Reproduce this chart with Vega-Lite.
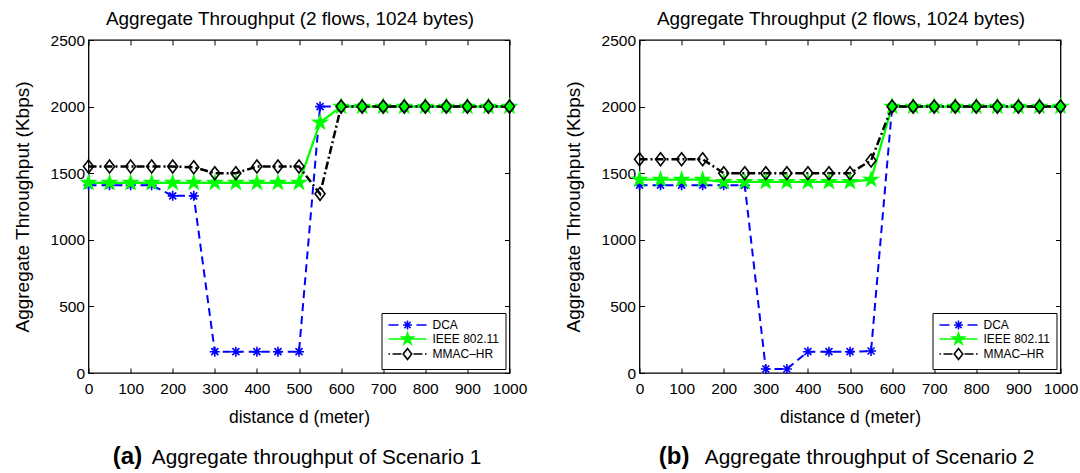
{
  "$schema": "https://vega.github.io/schema/vega-lite/v6.json",
  "padding": {"left": 11.5, "top": 9, "right": 5, "bottom": 0},
  "config": {
    "font": "Liberation Sans",
    "view": {"stroke": "black", "strokeWidth": 1.3},
    "axis": {"domain": false, "grid": false, "tickColor": "black", "tickSize": -5, "tickWidth": 1, "labelColor": "black", "labelFontSize": 15.5, "labelPadding": 9, "titleColor": "black", "titleFontSize": 17.5, "titleFontWeight": "normal", "labelFlush": false, "labelOverlap": false, "format": "d"},
    "title": {"fontSize": 18.9, "fontWeight": "normal", "color": "black", "offset": 4},
    "legend": {"orient": "bottom-right", "offset": 4, "strokeColor": "black", "fillColor": "white", "padding": 6, "cornerRadius": 0, "rowPadding": -4, "labelFontSize": 12, "labelColor": "black", "labelOffset": 33, "symbolSize": 100}
  },
  "data": {"values": [
    {"panel":"a","series":"DCA","d":0,"kbps":1410},{"panel":"a","series":"DCA","d":50,"kbps":1410},{"panel":"a","series":"DCA","d":100,"kbps":1410},{"panel":"a","series":"DCA","d":150,"kbps":1410},{"panel":"a","series":"DCA","d":200,"kbps":1330},{"panel":"a","series":"DCA","d":250,"kbps":1330},{"panel":"a","series":"DCA","d":300,"kbps":160},{"panel":"a","series":"DCA","d":350,"kbps":160},{"panel":"a","series":"DCA","d":400,"kbps":160},{"panel":"a","series":"DCA","d":450,"kbps":160},{"panel":"a","series":"DCA","d":500,"kbps":160},{"panel":"a","series":"DCA","d":550,"kbps":2000},{"panel":"a","series":"DCA","d":600,"kbps":2000},{"panel":"a","series":"DCA","d":650,"kbps":2000},{"panel":"a","series":"DCA","d":700,"kbps":2000},{"panel":"a","series":"DCA","d":750,"kbps":2000},{"panel":"a","series":"DCA","d":800,"kbps":2000},{"panel":"a","series":"DCA","d":850,"kbps":2000},{"panel":"a","series":"DCA","d":900,"kbps":2000},{"panel":"a","series":"DCA","d":950,"kbps":2000},{"panel":"a","series":"DCA","d":1000,"kbps":2000},
    {"panel":"a","series":"IEEE 802.11","d":0,"kbps":1428},{"panel":"a","series":"IEEE 802.11","d":50,"kbps":1428},{"panel":"a","series":"IEEE 802.11","d":100,"kbps":1428},{"panel":"a","series":"IEEE 802.11","d":150,"kbps":1428},{"panel":"a","series":"IEEE 802.11","d":200,"kbps":1428},{"panel":"a","series":"IEEE 802.11","d":250,"kbps":1428},{"panel":"a","series":"IEEE 802.11","d":300,"kbps":1428},{"panel":"a","series":"IEEE 802.11","d":350,"kbps":1428},{"panel":"a","series":"IEEE 802.11","d":400,"kbps":1428},{"panel":"a","series":"IEEE 802.11","d":450,"kbps":1428},{"panel":"a","series":"IEEE 802.11","d":500,"kbps":1428},{"panel":"a","series":"IEEE 802.11","d":550,"kbps":1880},{"panel":"a","series":"IEEE 802.11","d":600,"kbps":2000},{"panel":"a","series":"IEEE 802.11","d":650,"kbps":2000},{"panel":"a","series":"IEEE 802.11","d":700,"kbps":2000},{"panel":"a","series":"IEEE 802.11","d":750,"kbps":2000},{"panel":"a","series":"IEEE 802.11","d":800,"kbps":2000},{"panel":"a","series":"IEEE 802.11","d":850,"kbps":2000},{"panel":"a","series":"IEEE 802.11","d":900,"kbps":2000},{"panel":"a","series":"IEEE 802.11","d":950,"kbps":2000},{"panel":"a","series":"IEEE 802.11","d":1000,"kbps":2000},
    {"panel":"a","series":"MMAC–HR","d":0,"kbps":1550},{"panel":"a","series":"MMAC–HR","d":50,"kbps":1550},{"panel":"a","series":"MMAC–HR","d":100,"kbps":1550},{"panel":"a","series":"MMAC–HR","d":150,"kbps":1550},{"panel":"a","series":"MMAC–HR","d":200,"kbps":1550},{"panel":"a","series":"MMAC–HR","d":250,"kbps":1545},{"panel":"a","series":"MMAC–HR","d":300,"kbps":1500},{"panel":"a","series":"MMAC–HR","d":350,"kbps":1500},{"panel":"a","series":"MMAC–HR","d":400,"kbps":1550},{"panel":"a","series":"MMAC–HR","d":450,"kbps":1550},{"panel":"a","series":"MMAC–HR","d":500,"kbps":1550},{"panel":"a","series":"MMAC–HR","d":550,"kbps":1345},{"panel":"a","series":"MMAC–HR","d":600,"kbps":2000},{"panel":"a","series":"MMAC–HR","d":650,"kbps":2000},{"panel":"a","series":"MMAC–HR","d":700,"kbps":2000},{"panel":"a","series":"MMAC–HR","d":750,"kbps":2000},{"panel":"a","series":"MMAC–HR","d":800,"kbps":2000},{"panel":"a","series":"MMAC–HR","d":850,"kbps":2000},{"panel":"a","series":"MMAC–HR","d":900,"kbps":2000},{"panel":"a","series":"MMAC–HR","d":950,"kbps":2000},{"panel":"a","series":"MMAC–HR","d":1000,"kbps":2000},
    {"panel":"b","series":"DCA","d":0,"kbps":1410},{"panel":"b","series":"DCA","d":50,"kbps":1410},{"panel":"b","series":"DCA","d":100,"kbps":1410},{"panel":"b","series":"DCA","d":150,"kbps":1410},{"panel":"b","series":"DCA","d":200,"kbps":1410},{"panel":"b","series":"DCA","d":250,"kbps":1410},{"panel":"b","series":"DCA","d":300,"kbps":30},{"panel":"b","series":"DCA","d":350,"kbps":30},{"panel":"b","series":"DCA","d":400,"kbps":160},{"panel":"b","series":"DCA","d":450,"kbps":160},{"panel":"b","series":"DCA","d":500,"kbps":160},{"panel":"b","series":"DCA","d":550,"kbps":165},{"panel":"b","series":"DCA","d":600,"kbps":2000},{"panel":"b","series":"DCA","d":650,"kbps":2000},{"panel":"b","series":"DCA","d":700,"kbps":2000},{"panel":"b","series":"DCA","d":750,"kbps":2000},{"panel":"b","series":"DCA","d":800,"kbps":2000},{"panel":"b","series":"DCA","d":850,"kbps":2000},{"panel":"b","series":"DCA","d":900,"kbps":2000},{"panel":"b","series":"DCA","d":950,"kbps":2000},{"panel":"b","series":"DCA","d":1000,"kbps":2000},
    {"panel":"b","series":"IEEE 802.11","d":0,"kbps":1452},{"panel":"b","series":"IEEE 802.11","d":50,"kbps":1452},{"panel":"b","series":"IEEE 802.11","d":100,"kbps":1452},{"panel":"b","series":"IEEE 802.11","d":150,"kbps":1452},{"panel":"b","series":"IEEE 802.11","d":200,"kbps":1435},{"panel":"b","series":"IEEE 802.11","d":250,"kbps":1435},{"panel":"b","series":"IEEE 802.11","d":300,"kbps":1435},{"panel":"b","series":"IEEE 802.11","d":350,"kbps":1435},{"panel":"b","series":"IEEE 802.11","d":400,"kbps":1435},{"panel":"b","series":"IEEE 802.11","d":450,"kbps":1435},{"panel":"b","series":"IEEE 802.11","d":500,"kbps":1435},{"panel":"b","series":"IEEE 802.11","d":550,"kbps":1452},{"panel":"b","series":"IEEE 802.11","d":600,"kbps":2000},{"panel":"b","series":"IEEE 802.11","d":650,"kbps":2000},{"panel":"b","series":"IEEE 802.11","d":700,"kbps":2000},{"panel":"b","series":"IEEE 802.11","d":750,"kbps":2000},{"panel":"b","series":"IEEE 802.11","d":800,"kbps":2000},{"panel":"b","series":"IEEE 802.11","d":850,"kbps":2000},{"panel":"b","series":"IEEE 802.11","d":900,"kbps":2000},{"panel":"b","series":"IEEE 802.11","d":950,"kbps":2000},{"panel":"b","series":"IEEE 802.11","d":1000,"kbps":2000},
    {"panel":"b","series":"MMAC–HR","d":0,"kbps":1605},{"panel":"b","series":"MMAC–HR","d":50,"kbps":1605},{"panel":"b","series":"MMAC–HR","d":100,"kbps":1605},{"panel":"b","series":"MMAC–HR","d":150,"kbps":1605},{"panel":"b","series":"MMAC–HR","d":200,"kbps":1500},{"panel":"b","series":"MMAC–HR","d":250,"kbps":1500},{"panel":"b","series":"MMAC–HR","d":300,"kbps":1500},{"panel":"b","series":"MMAC–HR","d":350,"kbps":1500},{"panel":"b","series":"MMAC–HR","d":400,"kbps":1500},{"panel":"b","series":"MMAC–HR","d":450,"kbps":1500},{"panel":"b","series":"MMAC–HR","d":500,"kbps":1500},{"panel":"b","series":"MMAC–HR","d":550,"kbps":1595},{"panel":"b","series":"MMAC–HR","d":600,"kbps":2000},{"panel":"b","series":"MMAC–HR","d":650,"kbps":2000},{"panel":"b","series":"MMAC–HR","d":700,"kbps":2000},{"panel":"b","series":"MMAC–HR","d":750,"kbps":2000},{"panel":"b","series":"MMAC–HR","d":800,"kbps":2000},{"panel":"b","series":"MMAC–HR","d":850,"kbps":2000},{"panel":"b","series":"MMAC–HR","d":900,"kbps":2000},{"panel":"b","series":"MMAC–HR","d":950,"kbps":2000},{"panel":"b","series":"MMAC–HR","d":1000,"kbps":2000}
  ]},
  "spacing": 35,
  "resolve": {"legend": {"stroke": "independent"}},
  "hconcat": [
    {
      "title": {"text": "(a)", "orient": "bottom", "anchor": "start", "frame": "bounds", "dx": 100.5, "dy": -22, "offset": 0, "fontSize": 24, "fontWeight": "bold"},
      "resolve": {"legend": {"stroke": "independent"}},
      "vconcat": [{
        "title": {"text": "Aggregate throughput of Scenario 1", "orient": "bottom", "anchor": "start", "frame": "bounds", "dx": 139.5, "offset": 21, "fontSize": 20.8, "fontWeight": "normal"},
        "resolve": {"legend": {"stroke": "independent"}},
        "vconcat": [{
          "width": 421, "height": 333,
          "title": {"text": "Aggregate Throughput (2 flows, 1024 bytes)", "dx": -9},
          "transform": [{"filter": "datum.panel === 'a'"}],
          "layer": [
            {
              "mark": {"type": "line", "strokeCap": "butt"},
              "encoding": {
                "x": {"field": "d", "type": "quantitative", "scale": {"domain": [0, 1000], "nice": false}, "axis": {"orient": "bottom", "values": [0,100,200,300,400,500,600,700,800,900,1000], "title": "distance d (meter)", "titlePadding": 12, "labelPadding": 13}},
                "y": {"field": "kbps", "type": "quantitative", "scale": {"domain": [0, 2500], "nice": false}, "axis": {"orient": "left", "values": [0,500,1000,1500,2000,2500], "title": "Aggregate Throughput (Kbps)", "titlePadding": 18, "titleFontSize": 19}},
                "stroke": {"field": "series", "type": "nominal", "scale": {"domain": ["DCA", "IEEE 802.11", "MMAC–HR"], "range": ["#0000ff", "#00ff00", "#000000"]},
                  "legend": {"title": null, "encode": {"symbols": {"update": {
                    "shape": {"signal": "datum.value === 'DCA' ? 'M-1,0H1M4.6,0H6.6M1.9,0H3.7M2.8,-0.9V0.9M2.17,-0.63L3.43,0.63M2.17,0.63L3.43,-0.63' : datum.value === 'IEEE 802.11' ? 'M-1,0H6.6M2.8,-1.2L3.069,-0.371L3.941,-0.371L3.236,0.142L3.505,0.971L2.8,0.458L2.095,0.971L2.364,0.142L1.659,-0.371L2.531,-0.371Z' : 'M-1,0H-0.7M-0.2,0H1.6M2.8,-1.1L3.65,0L2.8,1.1L1.95,0ZM4.0,0H5.8M6.3,0H6.6'"},
                    "fill": {"signal": "datum.value === 'DCA' ? '#0000ff' : datum.value === 'IEEE 802.11' ? '#00ff00' : 'transparent'"},
                    "stroke": {"signal": "datum.value === 'DCA' ? '#0000ff' : datum.value === 'IEEE 802.11' ? '#00ff00' : '#000000'"},
                    "strokeWidth": {"value": 1.6},
                    "strokeDash": {"value": [1, 0]},
                    "size": {"value": 100},
                    "opacity": {"value": 1}
                  }}}}},
                "strokeDash": {"field": "series", "type": "nominal", "scale": {"domain": ["DCA", "IEEE 802.11", "MMAC–HR"], "range": [[8, 5], [1, 0], [8, 3, 2, 3]]}, "legend": null},
                "strokeWidth": {"field": "series", "type": "ordinal", "scale": {"domain": ["DCA", "IEEE 802.11", "MMAC–HR"], "range": [2, 2.5, 1.5]}, "legend": null}
              }
            },
            {
              "mark": {"type": "point", "filled": true, "opacity": 1, "size": 100, "strokeWidth": 1.6},
              "encoding": {
                "x": {"field": "d", "type": "quantitative", "axis": {"orient": "top", "values": [0,100,200,300,400,500,600,700,800,900,1000], "labels": false, "title": null}},
                "y": {"field": "kbps", "type": "quantitative", "axis": {"orient": "right", "values": [0,500,1000,1500,2000,2500], "labels": false, "title": null}},
                "stroke": {"field": "series", "type": "nominal", "scale": {"domain": ["DCA", "IEEE 802.11", "MMAC–HR"], "range": ["#0000ff", "#00ff00", "#000000"]}, "legend": null},
                "fill": {"field": "series", "type": "nominal", "scale": {"domain": ["DCA", "IEEE 802.11", "MMAC–HR"], "range": ["#0000ff", "#00ff00", "transparent"]}, "legend": null},
                "shape": {"field": "series", "type": "nominal", "scale": {"domain": ["DCA", "IEEE 802.11", "MMAC–HR"], "range": ["M-1,0H1M0,-1V1M-0.7,-0.7L0.7,0.7M-0.7,0.7L0.7,-0.7", "M0,-1.4L0.314,-0.433L1.331,-0.433L0.508,0.165L0.823,1.133L0,0.535L-0.823,1.133L-0.508,0.165L-1.331,-0.433L-0.314,-0.433Z", "M0,-1.3L1,0L0,1.3L-1,0Z"]}, "legend": null}
              }
            }
          ]
        }]
      }]
    },
    {
      "title": {"text": "(b)", "orient": "bottom", "anchor": "start", "frame": "bounds", "dx": 95.5, "dy": -22, "offset": 0, "fontSize": 24, "fontWeight": "bold"},
      "resolve": {"legend": {"stroke": "independent"}},
      "vconcat": [{
        "title": {"text": "Aggregate throughput of Scenario 2", "orient": "bottom", "anchor": "start", "frame": "bounds", "dx": 141.5, "offset": 21, "fontSize": 20.8, "fontWeight": "normal"},
        "resolve": {"legend": {"stroke": "independent"}},
        "vconcat": [{
          "width": 421, "height": 333,
          "title": {"text": "Aggregate Throughput (2 flows, 1024 bytes)", "dx": -9},
          "transform": [{"filter": "datum.panel === 'b'"}],
          "layer": [
            {
              "mark": {"type": "line", "strokeCap": "butt"},
              "encoding": {
                "x": {"field": "d", "type": "quantitative", "scale": {"domain": [0, 1000], "nice": false}, "axis": {"orient": "bottom", "values": [0,100,200,300,400,500,600,700,800,900,1000], "title": "distance d (meter)", "titlePadding": 12, "labelPadding": 13}},
                "y": {"field": "kbps", "type": "quantitative", "scale": {"domain": [0, 2500], "nice": false}, "axis": {"orient": "left", "values": [0,500,1000,1500,2000,2500], "title": "Aggregate Throughput (Kbps)", "titlePadding": 18, "titleFontSize": 19}},
                "stroke": {"field": "series", "type": "nominal", "scale": {"domain": ["DCA", "IEEE 802.11", "MMAC–HR"], "range": ["#0000ff", "#00ff00", "#000000"]},
                  "legend": {"title": null, "encode": {"symbols": {"update": {
                    "shape": {"signal": "datum.value === 'DCA' ? 'M-1,0H1M4.6,0H6.6M1.9,0H3.7M2.8,-0.9V0.9M2.17,-0.63L3.43,0.63M2.17,0.63L3.43,-0.63' : datum.value === 'IEEE 802.11' ? 'M-1,0H6.6M2.8,-1.2L3.069,-0.371L3.941,-0.371L3.236,0.142L3.505,0.971L2.8,0.458L2.095,0.971L2.364,0.142L1.659,-0.371L2.531,-0.371Z' : 'M-1,0H-0.7M-0.2,0H1.6M2.8,-1.1L3.65,0L2.8,1.1L1.95,0ZM4.0,0H5.8M6.3,0H6.6'"},
                    "fill": {"signal": "datum.value === 'DCA' ? '#0000ff' : datum.value === 'IEEE 802.11' ? '#00ff00' : 'transparent'"},
                    "stroke": {"signal": "datum.value === 'DCA' ? '#0000ff' : datum.value === 'IEEE 802.11' ? '#00ff00' : '#000000'"},
                    "strokeWidth": {"value": 1.6},
                    "strokeDash": {"value": [1, 0]},
                    "size": {"value": 100},
                    "opacity": {"value": 1}
                  }}}}},
                "strokeDash": {"field": "series", "type": "nominal", "scale": {"domain": ["DCA", "IEEE 802.11", "MMAC–HR"], "range": [[8, 5], [1, 0], [8, 3, 2, 3]]}, "legend": null},
                "strokeWidth": {"field": "series", "type": "ordinal", "scale": {"domain": ["DCA", "IEEE 802.11", "MMAC–HR"], "range": [2, 2.5, 1.5]}, "legend": null}
              }
            },
            {
              "mark": {"type": "point", "filled": true, "opacity": 1, "size": 100, "strokeWidth": 1.6},
              "encoding": {
                "x": {"field": "d", "type": "quantitative", "axis": {"orient": "top", "values": [0,100,200,300,400,500,600,700,800,900,1000], "labels": false, "title": null}},
                "y": {"field": "kbps", "type": "quantitative", "axis": {"orient": "right", "values": [0,500,1000,1500,2000,2500], "labels": false, "title": null}},
                "stroke": {"field": "series", "type": "nominal", "scale": {"domain": ["DCA", "IEEE 802.11", "MMAC–HR"], "range": ["#0000ff", "#00ff00", "#000000"]}, "legend": null},
                "fill": {"field": "series", "type": "nominal", "scale": {"domain": ["DCA", "IEEE 802.11", "MMAC–HR"], "range": ["#0000ff", "#00ff00", "transparent"]}, "legend": null},
                "shape": {"field": "series", "type": "nominal", "scale": {"domain": ["DCA", "IEEE 802.11", "MMAC–HR"], "range": ["M-1,0H1M0,-1V1M-0.7,-0.7L0.7,0.7M-0.7,0.7L0.7,-0.7", "M0,-1.4L0.314,-0.433L1.331,-0.433L0.508,0.165L0.823,1.133L0,0.535L-0.823,1.133L-0.508,0.165L-1.331,-0.433L-0.314,-0.433Z", "M0,-1.3L1,0L0,1.3L-1,0Z"]}, "legend": null}
              }
            }
          ]
        }]
      }]
    }
  ]
}
